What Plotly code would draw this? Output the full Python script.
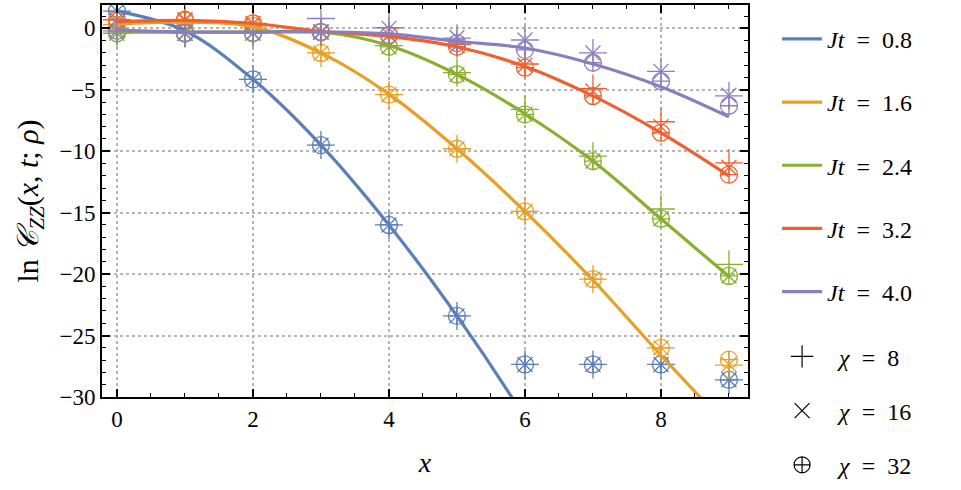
import plotly.graph_objects as go

x = [0, 1, 2, 3, 4, 5, 6, 7, 8, 9]
jt_labels = ["0.8", "1.6", "2.4", "3.2", "4.0"]
colors = ["#5b7fbb", "#e8a024", "#88b02e", "#f0602f", "#8a7ebf"]

# fitted curves (values at integer x, drawn as smooth spline)
line_08 = [1.4, -0.2, -4.15, -9.5, -16.0, -23.4, -31.7, -41.0]
line_16 = [0.35, 0.5, 0.15, -2.0, -5.35, -9.8, -14.9, -20.5, -26.6, -32.5]
line_24 = [-0.3, -0.3, -0.3, -0.3, -1.4, -3.75, -6.95, -10.8, -15.5, -20.2]
line_32 = [0.55, 0.65, 0.4, -0.25, -0.65, -1.5, -3.1, -5.5, -8.5, -12.0]
line_40 = [-0.15, -0.3, -0.3, -0.3, -0.45, -1.05, -1.6, -2.9, -4.75, -7.2]

# chi = 8
c8_08 = [1.4, -0.4, -4.15, -9.5, -16.0, -23.4, -27.35, -27.35, -27.35, -28.6]
c8_16 = [0.3, 0.6, 0.2, -2.0, -5.4, -9.8, -14.9, -20.4, -26.0, -27.4]
c8_24 = [-0.4, -0.4, -0.4, -0.3, -1.4, -3.6, -6.6, -10.4, -14.7, -19.2]
c8_32 = [0.7, 0.7, 0.4, -0.3, -0.5, -1.3, -2.9, -4.9, -7.6, -10.95]
c8_40 = [-0.2, -0.4, -0.35, 0.8, 0.05, -0.8, -0.95, -2.0, -3.5, -5.5]
# chi = 16
c16_08 = [1.4, -0.4, -4.15, -9.5, -16.0, -23.4, -27.35, -27.35, -27.35, -28.6]
c16_16 = [0.3, 0.6, 0.2, -2.0, -5.4, -9.8, -14.9, -20.4, -26.0, -27.35]
c16_24 = [-0.4, -0.4, -0.4, -0.3, -1.5, -3.75, -7.0, -10.8, -15.5, -20.15]
c16_32 = [0.7, 0.7, 0.4, -0.3, -0.55, -1.4, -3.0, -5.1, -8.0, -11.3]
c16_40 = [-0.2, -0.4, -0.35, -0.3, 0.0, -0.75, -0.95, -2.0, -3.5, -5.45]
# chi = 32
c32_08 = [1.4, -0.4, -4.15, -9.5, -16.0, -23.4, -27.35, -27.35, -27.35, -28.6]
c32_16 = [0.3, 0.6, 0.2, -2.0, -5.4, -9.8, -14.9, -20.4, -26.0, -26.96]
c32_24 = [-0.4, -0.4, -0.4, -0.3, -1.5, -3.75, -7.0, -10.8, -15.5, -20.15]
c32_32 = [0.7, 0.7, 0.4, -0.3, -0.55, -1.5, -3.2, -5.5, -8.5, -11.9]
c32_40 = [-0.2, -0.4, -0.35, -0.3, -0.55, -1.2, -1.75, -2.8, -4.3, -6.3]

lines = [line_08, line_16, line_24, line_32, line_40]
chi_labels = ["8", "16", "32"]
chi_symbols = ["cross-thin-open", "x-thin-open", "circle-cross-open"]
chi_sizes = [20, 15, 17]
chi_data = [
    [c8_08, c8_16, c8_24, c8_32, c8_40],
    [c16_08, c16_16, c16_24, c16_32, c16_40],
    [c32_08, c32_16, c32_24, c32_32, c32_40],
]

FONT = "Liberation Serif, Times New Roman, serif"
SP = "\u2002"
fig = go.Figure()

for i, lab in enumerate(jt_labels):
    for k in range(3):
        fig.add_trace(go.Scatter(
            x=x, y=chi_data[k][i], mode="markers", showlegend=False,
            marker=dict(symbol=chi_symbols[k], size=chi_sizes[k],
                        color=colors[i], line=dict(color=colors[i], width=1.3)),
            cliponaxis=True,
        ))

for i, lab in enumerate(jt_labels):
    ly = lines[i]
    fig.add_trace(go.Scatter(
        x=x[:len(ly)], y=ly, mode="lines",
        line=dict(color=colors[i], width=3.2, shape="spline", smoothing=1.0),
        name=f"<i>Jt</i>{SP}={SP}{lab}", legend="legend", legendgroup=f"g{i}",
    ))

for k, lab in enumerate(chi_labels):
    fig.add_trace(go.Scatter(
        x=[None], y=[None], mode="markers", name=f"{SP}<i>χ</i>{SP}={SP}{lab}",
        marker=dict(symbol=chi_symbols[k], size=chi_sizes[k], color="black",
                    line=dict(color="black", width=1.2)),
        legend="legend2", legendgroup=f"c{k}",
    ))

axis_common = dict(
    showline=True, linecolor="black", linewidth=2, mirror="ticks",
    ticks="inside", ticklen=8, tickwidth=1.6, tickcolor="black",
    showgrid=True, gridcolor="#b5b5b5", griddash="dot", gridwidth=1.5,
    zeroline=False, tickfont=dict(family=FONT, size=23, color="black"),
)

fig.update_xaxes(
    range=[-0.22, 9.28], tick0=0, dtick=2,
    minor=dict(dtick=0.5, ticks="inside", ticklen=4, tickwidth=1.4, tickcolor="black", showgrid=False),
    title=dict(text="<i>x</i>", font=dict(family=FONT, size=28, color="black"), standoff=22),
    **axis_common,
)
fig.update_yaxes(
    range=[-30, 1.9], tick0=0, dtick=5,
    minor=dict(dtick=1, ticks="inside", ticklen=4, tickwidth=1.4, tickcolor="black", showgrid=False),
    title=dict(text="ln <i>𝒞</i><sub><i>ZZ</i></sub>(<i>x</i>, <i>t</i>; <i>ρ</i>)",
               font=dict(family=FONT, size=30, color="black"), standoff=12),
    **axis_common,
)

fig.update_layout(
    width=961, height=490,
    margin=dict(l=102, r=213, t=3, b=87),
    plot_bgcolor="white", paper_bgcolor="white",
    font=dict(family=FONT, color="black"),
    legend=dict(x=1.045, y=0.97, xanchor="left", yanchor="top",
                font=dict(family=FONT, size=24, color="black"),
                tracegroupgap=29, bgcolor="rgba(0,0,0,0)", itemwidth=40),
    legend2=dict(x=1.045, y=0.16, xanchor="left", yanchor="top",
                 font=dict(family=FONT, size=24, color="black"),
                 tracegroupgap=20, bgcolor="rgba(0,0,0,0)", itemwidth=40),
)

fig.write_html("out.html")
